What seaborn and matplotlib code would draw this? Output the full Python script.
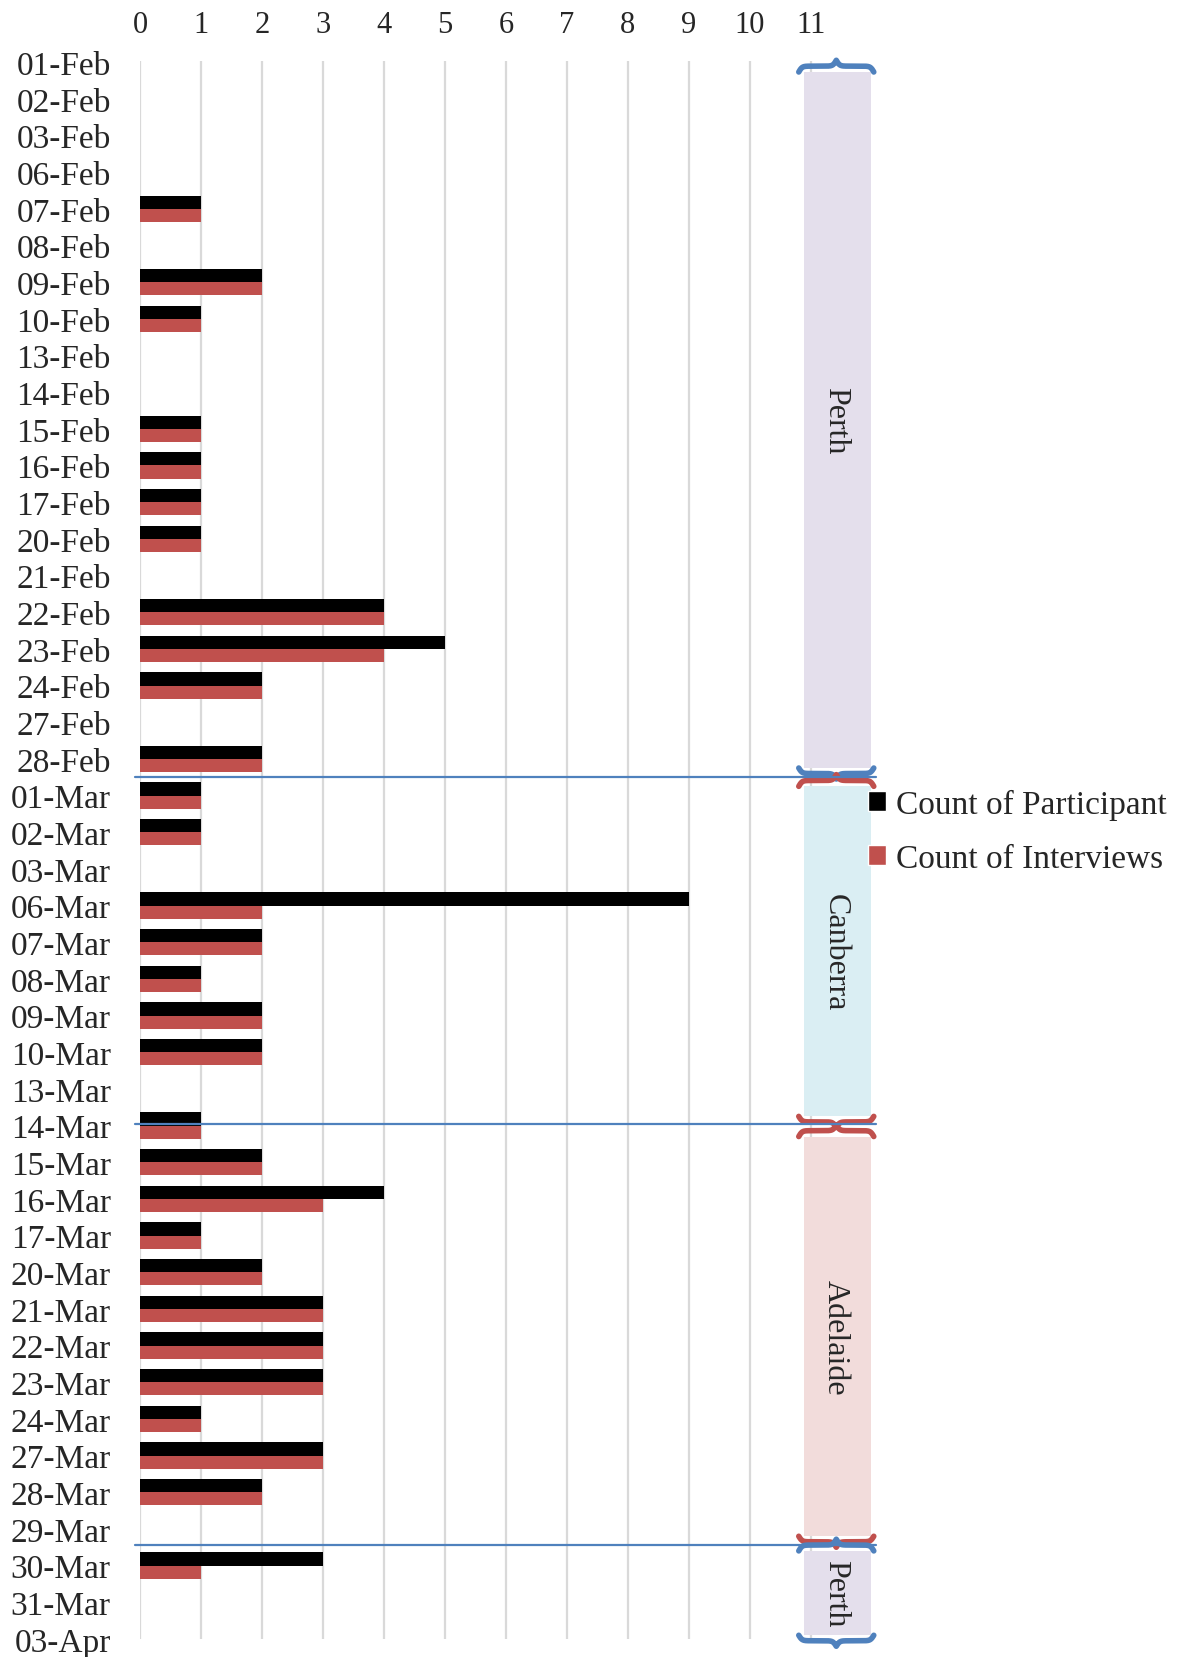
import matplotlib
matplotlib.use("Agg")
import matplotlib.pyplot as plt
from matplotlib.patches import Patch, Rectangle
import numpy as np
import pandas as pd
import seaborn as sns

dates = ['01-Feb', '02-Feb', '03-Feb', '06-Feb', '07-Feb', '08-Feb', '09-Feb', '10-Feb',
         '13-Feb', '14-Feb', '15-Feb', '16-Feb', '17-Feb', '20-Feb', '21-Feb', '22-Feb',
         '23-Feb', '24-Feb', '27-Feb', '28-Feb', '01-Mar', '02-Mar', '03-Mar', '06-Mar',
         '07-Mar', '08-Mar', '09-Mar', '10-Mar', '13-Mar', '14-Mar', '15-Mar', '16-Mar',
         '17-Mar', '20-Mar', '21-Mar', '22-Mar', '23-Mar', '24-Mar', '27-Mar', '28-Mar',
         '29-Mar', '30-Mar', '31-Mar', '03-Apr']
participants = [0, 0, 0, 0, 1, 0, 2, 1, 0, 0, 1, 1, 1, 1, 0, 4, 5, 2, 0, 2,
                1, 1, 0, 9, 2, 1, 2, 2, 0, 1, 2, 4, 1, 2, 3, 3, 3, 1, 3, 2,
                0, 3, 0, 0]
interviews = [0, 0, 0, 0, 1, 0, 2, 1, 0, 0, 1, 1, 1, 1, 0, 4, 4, 2, 0, 2,
              1, 1, 0, 2, 2, 1, 2, 2, 0, 1, 2, 3, 1, 2, 3, 3, 3, 1, 3, 2,
              0, 1, 0, 0]
series_names = ['Count of Participant', 'Count of Interviews']

# city periods shown as braces on the right
cities = ['Perth', 'Canberra', 'Adelaide', 'Perth']
city_start = [0.27, 19.75, 29.3, 40.6]
city_end = [19.25, 28.75, 40.2, 42.9]
city_fill = ['#E4DFEC', '#DAEEF3', '#F2DCDB', '#E4DFEC']
city_brace = ['#4F81BD', '#C0504D', '#C0504D', '#4F81BD']
separators = [19.5, 28.95, 40.45]

df = pd.DataFrame({
    'date': dates * 2,
    'value': participants + interviews,
    'series': [series_names[0]] * len(dates) + [series_names[1]] * len(dates),
})

sns.set_theme(style='white')
plt.rcParams['font.family'] = ['Liberation Serif', 'DejaVu Serif']


def draw_brace(ax, x0, x1, y, h, color):
    t = np.linspace(0, 0.5, 200)
    beta = 45
    half = 1 / (1 + np.exp(-beta * (t - t[0]))) + 1 / (1 + np.exp(-beta * (t - t[-1])))
    prof = np.concatenate([half, half[-2::-1]]) - 0.5
    xs = np.linspace(x0, x1, prof.size)
    ax.plot(xs, y + h * prof, color=color, lw=4, clip_on=False,
            solid_capstyle='round', zorder=4)


fig = plt.figure(figsize=(11.82, 16.58), dpi=100)
ax = fig.add_axes([0.1184, 0.0109, 0.6193, 0.9517])

sns.barplot(data=df, y='date', x='value', hue='series', order=dates,
            hue_order=series_names, palette=['black', '#C0504D'], saturation=1,
            orient='h', width=0.72, linewidth=0, legend=False, ax=ax, zorder=3)

ax.set_xlim(0, 12)
ax.set_ylim(43.0, -0.03)
ax.set_yticks(range(len(dates)))
ax.set_yticklabels(dates)
ax.set_xticks(range(12))
ax.xaxis.tick_top()
ax.tick_params(axis='x', length=0, pad=16, labelsize=22)
ax.tick_params(axis='y', length=0, pad=21, labelsize=24)
for lab in ax.get_yticklabels():
    lab.set_clip_on(False)
ax.set_xlabel('')
ax.set_ylabel('')
for s in ax.spines.values():
    s.set_visible(False)
ax.set_axisbelow(True)
ax.grid(axis='x', color='#D9D9D9', lw=1.6, zorder=0)
ax.grid(axis='y', visible=False)

for name, y0, y1, fc, bc in zip(cities, city_start, city_end, city_fill, city_brace):
    ax.add_patch(Rectangle((10.88, y0), 1.1, y1 - y0, facecolor=fc,
                           edgecolor='none', zorder=1))
    draw_brace(ax, 10.8, 12.03, y0, -0.32, bc)
    draw_brace(ax, 10.8, 12.03, y1, 0.3, bc)
    ax.text(11.4, (y0 + y1) / 2, name, rotation=270, ha='center', va='center',
            fontsize=23, zorder=5)

for y in separators:
    ax.plot([-0.08, 12.07], [y, y], color='#4F81BD', lw=1.6, clip_on=False, zorder=5)

handles = [Patch(facecolor='black'), Patch(facecolor='#C0504D')]
fig.legend(handles, series_names, loc='upper left',
           bbox_to_anchor=(868 / 1182, 1 - 790 / 1658), frameon=False,
           fontsize=24, handlelength=0.55, handleheight=0.55,
           handletextpad=0.3, labelspacing=0.7, borderpad=0, borderaxespad=0)

fig.savefig('out.png', dpi=100)
